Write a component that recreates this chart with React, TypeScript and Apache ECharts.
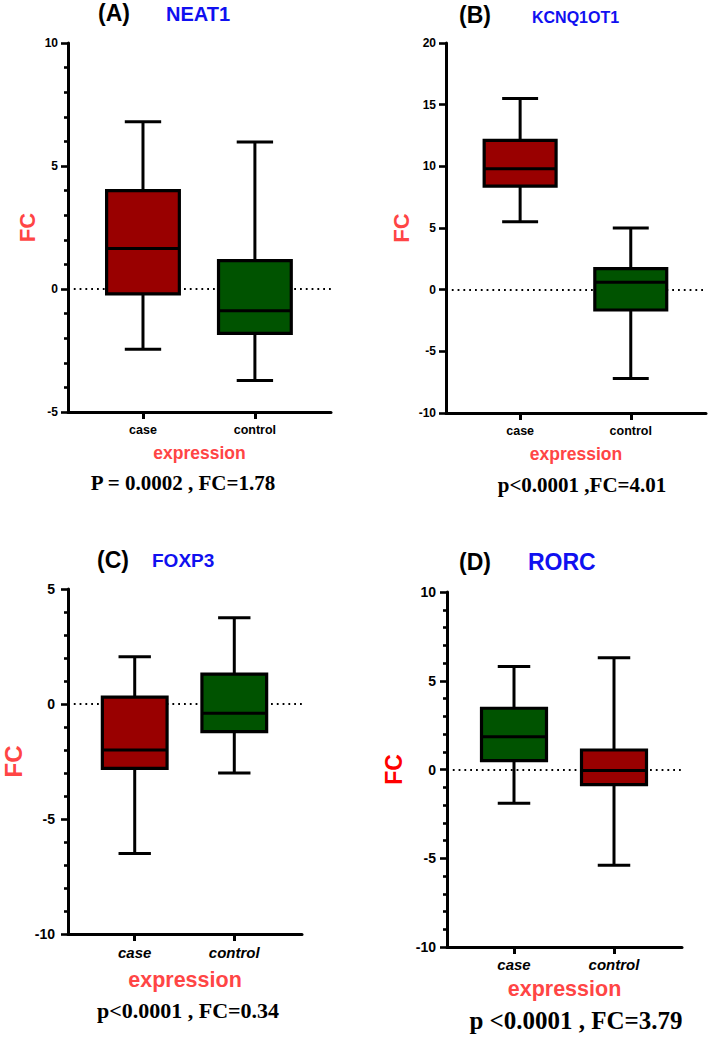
import React, { useEffect, useRef } from 'react';
import * as echarts from 'echarts';

// ---------- data ----------
const CATEGORIES = ['case', 'control'];
const CATEGORY_POS = [0, 1];
// [min, Q1, median, Q3, max]
const NEAT1_CASE = [-2.45, -0.2, 1.65, 4.0, 6.8];
const NEAT1_CONTROL = [-3.72, -1.8, -0.88, 1.15, 5.98];
const KCNQ1OT1_CASE = [5.5, 8.4, 9.8, 12.1, 15.5];
const KCNQ1OT1_CONTROL = [-7.2, -1.65, 0.6, 1.7, 5.0];
const FOXP3_CASE = [-6.5, -2.8, -2.0, 0.3, 2.05];
const FOXP3_CONTROL = [-3.0, -1.2, -0.4, 1.3, 3.75];
const RORC_CASE = [-1.9, 0.5, 1.85, 3.45, 5.8];
const RORC_CONTROL = [-5.4, -0.85, -0.05, 1.1, 6.3];

const Y_RANGE_A = [-5, 10];
const Y_RANGE_B = [-10, 20];
const Y_RANGE_C = [-10, 5];
const Y_RANGE_D = [-10, 10];

const STATS_A = 'P = 0.0002 , FC=1.78';
const STATS_B = 'p<0.0001 ,FC=4.01';
const STATS_C = 'p<0.0001 , FC=0.34';
const STATS_D = 'p <0.0001 , FC=3.79';

// ---------- styles ----------
const SANS = '"Liberation Sans", Arial, sans-serif';
const SERIF = '"Liberation Serif", "Times New Roman", serif';
const DARK_RED = '#990000';
const DARK_GREEN = '#005300';
const BLUE = '#1010f0';
const LABEL_RED = '#ff4545';
const INK = '#000000';
const BOX_W = 0.65;

interface PanelCfg {
  grid: { left: number; top: number; width: number; height: number };
  yRange: number[];
  minor: boolean;
  yLabelSize: number;
  yLabelMargin: number;
  xLabelSize: number;
  xItalic: boolean;
  xLabelMargin: number;
  fcGap: number;
  fcSize: number;
  fcColor: string;
  exprGap: number;
  exprSize: number;
  boxes: number[][];
  colors: string[];
}

const PANELS: PanelCfg[] = [
  {
    grid: { left: 68, top: 43, width: 263, height: 369 },
    yRange: Y_RANGE_A, minor: true, yLabelSize: 12, yLabelMargin: 10,
    xLabelSize: 12.5, xItalic: false, xLabelMargin: 11,
    fcGap: 30, fcSize: 22, fcColor: LABEL_RED, exprGap: 32, exprSize: 17.5,
    boxes: [NEAT1_CASE, NEAT1_CONTROL], colors: [DARK_RED, DARK_GREEN],
  },
  {
    grid: { left: 446, top: 43, width: 260, height: 370 },
    yRange: Y_RANGE_B, minor: false, yLabelSize: 12, yLabelMargin: 10,
    xLabelSize: 12.5, xItalic: false, xLabelMargin: 11,
    fcGap: 34, fcSize: 22, fcColor: LABEL_RED, exprGap: 32, exprSize: 17.5,
    boxes: [KCNQ1OT1_CASE, KCNQ1OT1_CONTROL], colors: [DARK_RED, DARK_GREEN],
  },
  {
    grid: { left: 68, top: 589, width: 234, height: 345 },
    yRange: Y_RANGE_C, minor: true, yLabelSize: 14, yLabelMargin: 13,
    xLabelSize: 15, xItalic: true, xLabelMargin: 11,
    fcGap: 43, fcSize: 24, fcColor: LABEL_RED, exprGap: 35, exprSize: 21.5,
    boxes: [FOXP3_CASE, FOXP3_CONTROL], colors: [DARK_RED, DARK_GREEN],
  },
  {
    grid: { left: 447, top: 592, width: 235, height: 355 },
    yRange: Y_RANGE_D, minor: true, yLabelSize: 14, yLabelMargin: 11,
    xLabelSize: 15, xItalic: true, xLabelMargin: 10,
    fcGap: 42, fcSize: 23, fcColor: '#ff0000', exprGap: 31, exprSize: 21.5,
    boxes: [RORC_CASE, RORC_CONTROL], colors: [DARK_GREEN, DARK_RED],
  },
];

const TITLES = [
  { tag: '(A)', tagX: 114, tagY: 13, name: 'NEAT1', nameX: 166, nameY: 14, nameSize: 20 },
  { tag: '(B)', tagX: 475, tagY: 15, name: 'KCNQ1OT1', nameX: 532, nameY: 17, nameSize: 16 },
  { tag: '(C)', tagX: 113, tagY: 560, name: 'FOXP3', nameX: 152, nameY: 560, nameSize: 19 },
  { tag: '(D)', tagX: 475, tagY: 562, name: 'RORC', nameX: 528, nameY: 562, nameSize: 23 },
];

const STATS = [
  { text: STATS_A, x: 183, y: 483, size: 21 },
  { text: STATS_B, x: 582, y: 485, size: 21 },
  { text: STATS_C, x: 188, y: 1010, size: 22 },
  { text: STATS_D, x: 576, y: 1020, size: 25 },
];

function makeRenderItem(colors: string[]) {
  return (params: any, api: any) => {
    const x = api.value(0);
    const v = [1, 2, 3, 4, 5].map((i) => api.value(i));
    const pMin = api.coord([x, v[0]]);
    const pQ1 = api.coord([x, v[1]]);
    const pMed = api.coord([x, v[2]]);
    const pQ3 = api.coord([x, v[3]]);
    const pMax = api.coord([x, v[4]]);
    const w = api.size([BOX_W, 0])[0];
    const half = w / 2;
    const capHalf = w / 4;
    const cx = pMin[0];
    const ls = { stroke: '#000', lineWidth: 3 };
    return {
      type: 'group',
      children: [
        { type: 'line', shape: { x1: cx, y1: pMax[1], x2: cx, y2: pQ3[1] }, style: ls },
        { type: 'line', shape: { x1: cx, y1: pQ1[1], x2: cx, y2: pMin[1] }, style: ls },
        { type: 'line', shape: { x1: cx - capHalf, y1: pMax[1], x2: cx + capHalf, y2: pMax[1] }, style: ls },
        { type: 'line', shape: { x1: cx - capHalf, y1: pMin[1], x2: cx + capHalf, y2: pMin[1] }, style: ls },
        {
          type: 'rect',
          shape: { x: cx - half, y: pQ3[1], width: w, height: pQ1[1] - pQ3[1] },
          style: { fill: colors[params.dataIndex], stroke: '#000', lineWidth: 3.2 },
        },
        { type: 'line', shape: { x1: cx - half, y1: pMed[1], x2: cx + half, y2: pMed[1] }, style: ls },
      ],
    };
  };
}

function buildOption() {
  const grid: any[] = [];
  const xAxis: any[] = [];
  const yAxis: any[] = [];
  const series: any[] = [];
  PANELS.forEach((p, i) => {
    grid.push({ ...p.grid, containLabel: false });
    xAxis.push({
      type: 'value',
      gridIndex: i,
      min: -0.67,
      max: 1.68,
      splitLine: { show: false },
      axisLine: { show: true, onZero: false, lineStyle: { color: '#000', width: 3 } },
      axisTick: { show: true, customValues: CATEGORY_POS, length: 7, lineStyle: { color: '#000', width: 3 } },
      axisLabel: {
        show: true,
        customValues: CATEGORY_POS,
        formatter: (val: number) => CATEGORIES[Math.round(val)] ?? '',
        color: INK,
        fontFamily: SANS,
        fontWeight: 'bold',
        fontStyle: p.xItalic ? 'italic' : 'normal',
        fontSize: p.xLabelSize,
        margin: p.xLabelMargin,
      },
      name: 'expression',
      nameLocation: 'middle',
      nameGap: p.exprGap,
      nameTextStyle: { color: LABEL_RED, fontFamily: SANS, fontWeight: 'bold', fontSize: p.exprSize },
    });
    yAxis.push({
      type: 'value',
      gridIndex: i,
      min: p.yRange[0],
      max: p.yRange[1],
      interval: 5,
      splitLine: { show: false },
      axisLine: { show: true, onZero: false, lineStyle: { color: '#000', width: 3 } },
      axisTick: { show: true, length: 7, lineStyle: { color: '#000', width: 2.6 } },
      minorTick: { show: p.minor, splitNumber: 5, length: 4, lineStyle: { color: '#000', width: 2.6 } },
      minorSplitLine: { show: false },
      axisLabel: {
        color: INK,
        fontFamily: SANS,
        fontWeight: 'bold',
        fontSize: p.yLabelSize,
        margin: p.yLabelMargin,
      },
      name: 'FC',
      nameLocation: 'middle',
      nameRotate: 90,
      nameGap: p.fcGap,
      nameTextStyle: { color: p.fcColor, fontFamily: SANS, fontWeight: 'bold', fontSize: p.fcSize },
    });
    series.push({
      type: 'custom',
      xAxisIndex: i,
      yAxisIndex: i,
      z: 3,
      encode: { x: 0, y: [1, 2, 3, 4, 5] },
      data: p.boxes.map((b, k) => [CATEGORY_POS[k], ...b]),
      renderItem: makeRenderItem(p.colors),
      markLine: {
        silent: true,
        z: 1,
        symbol: 'none',
        label: { show: false },
        lineStyle: { color: '#000', width: 1.8, type: [1.8, 4] },
        data: [{ yAxis: 0 }],
      },
    });
  });

  const graphic: any[] = [];
  TITLES.forEach((t) => {
    graphic.push({
      type: 'text',
      x: t.tagX,
      y: t.tagY,
      style: { text: t.tag, fill: INK, fontFamily: SANS, fontWeight: 'bold', fontSize: 23, align: 'center', verticalAlign: 'middle' },
    });
    graphic.push({
      type: 'text',
      x: t.nameX,
      y: t.nameY,
      style: { text: t.name, fill: BLUE, fontFamily: SANS, fontWeight: 'bold', fontSize: t.nameSize, align: 'left', verticalAlign: 'middle' },
    });
  });
  STATS.forEach((s) => {
    graphic.push({
      type: 'text',
      x: s.x,
      y: s.y,
      style: { text: s.text, fill: INK, fontFamily: SERIF, fontWeight: 'bold', fontSize: s.size, align: 'center', verticalAlign: 'middle' },
    });
  });

  return {
    animation: false,
    backgroundColor: '#ffffff',
    grid,
    xAxis,
    yAxis,
    series,
    graphic,
  };
}

export default function App() {
  const ref = useRef<HTMLDivElement>(null);
  useEffect(() => {
    if (!ref.current) return;
    const chart = echarts.init(ref.current, undefined, { renderer: 'svg' });
    chart.setOption(buildOption() as any);
    return () => chart.dispose();
  }, []);
  return (
    <div
      ref={ref}
      style={{ position: 'absolute', left: 0, top: 0, width: 709, height: 1062, background: '#fff' }}
    />
  );
}
